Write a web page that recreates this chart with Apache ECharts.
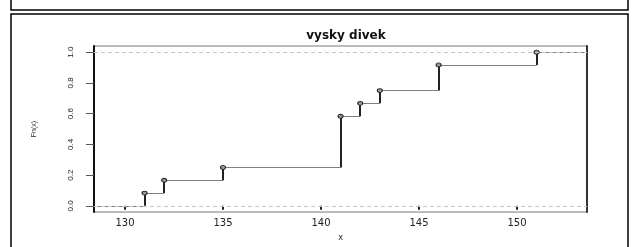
<!DOCTYPE html>
<html>
<head>
<meta charset="utf-8">
<script src="https://cdn.jsdelivr.net/npm/echarts@6/dist/echarts.min.js"></script>
<style>
  html, body { margin: 0; padding: 0; background: #fff; }
  #chart { width: 636px; height: 247px; }
</style>
</head>
<body>
<div id="chart"></div>
<script>
// ECDF of the girls' heights: jump points and Fn(x) after each jump
const knots = [131, 132, 135, 141, 142, 143, 146, 151];
const fnValues = [0.083, 0.167, 0.25, 0.583, 0.667, 0.75, 0.917, 1.0];
const xTicks = [130, 135, 140, 145, 150];
const yTicks = [0, 0.2, 0.4, 0.6, 0.8, 1.0];
const xMin = 128.42, xMax = 153.57;
const yMin = -0.04, yMax = 1.04;

// horizontal pieces (thin grey) and vertical jumps (dark)
const flats = [];
const jumps = [];
let prevX = xMin, prevY = 0;
knots.forEach((k, i) => {
  flats.push({ coords: [[prevX, prevY], [k, prevY]] });
  jumps.push({ coords: [[k, prevY], [k, fnValues[i]]] });
  prevX = k;
  prevY = fnValues[i];
});
flats.push({ coords: [[prevX, prevY], [xMax, prevY]] });

const chart = echarts.init(document.getElementById('chart'));
chart.setOption({
  animation: false,
  title: {
    text: 'vysky divek',
    left: 341,
    top: 25,
    textAlign: 'center',
    textStyle: { fontFamily: 'DejaVu Sans', fontWeight: 'bold', fontSize: 12, color: '#111' }
  },
  grid: {
    left: 94, top: 46, width: 493, height: 168,
    show: true, borderColor: '#777', borderWidth: 1
  },
  xAxis: {
    type: 'value', min: xMin, max: xMax,
    name: 'x', nameLocation: 'middle', nameGap: 22,
    nameTextStyle: { fontFamily: 'DejaVu Sans', fontSize: 8, color: '#222' },
    splitLine: { show: false },
    axisLine: { show: false },
    axisTick: { show: true, length: 4, customValues: xTicks, lineStyle: { color: '#222', width: 2 } },
    axisLabel: {
      customValues: xTicks, margin: 6,
      fontFamily: 'DejaVu Sans', fontSize: 10, color: '#222'
    }
  },
  yAxis: [{
    type: 'value', min: yMin, max: yMax,
    name: 'Fn(x)', nameLocation: 'middle', nameGap: 56, nameRotate: 90,
    nameTextStyle: { fontFamily: 'Liberation Sans', fontSize: 7, color: '#222' },
    splitLine: { show: false },
    axisLine: { show: true, lineStyle: { color: '#111', width: 2 } },
    axisTick: { show: true, length: 8, customValues: yTicks, lineStyle: { color: '#555', width: 1 } },
    axisLabel: {
      customValues: yTicks, rotate: 90, margin: 19,
      fontFamily: 'Liberation Sans', fontSize: 8, color: '#222',
      formatter: (v) => v.toFixed(1)
    }
  }, {
    type: 'value', position: 'right', min: yMin, max: yMax,
    splitLine: { show: false },
    axisLine: { show: true, lineStyle: { color: '#333', width: 2 } },
    axisTick: { show: false },
    axisLabel: { show: false }
  }],
  series: [
    {
      type: 'line', data: [], silent: true, z: 1,
      markLine: {
        symbol: 'none', silent: true, label: { show: false },
        lineStyle: { color: '#c8c8c8', type: [4, 3], width: 1 },
        data: [{ yAxis: 0 }, { yAxis: 1 }]
      }
    },
    {
      type: 'lines', coordinateSystem: 'cartesian2d', z: 2,
      lineStyle: { color: '#808080', width: 1, opacity: 1 },
      data: flats
    },
    {
      type: 'lines', coordinateSystem: 'cartesian2d', z: 3,
      lineStyle: { color: '#222', width: 2, opacity: 1 },
      data: jumps
    },
    {
      type: 'scatter', z: 4,
      symbol: 'circle', symbolSize: [5, 4],
      itemStyle: { color: '#999', borderColor: '#222', borderWidth: 1, opacity: 1 },
      data: knots.map((k, i) => [k, fnValues[i]])
    }
  ],
  graphic: [
    // outer frames
    { type: 'polyline', shape: { points: [[11, -2], [11, 10], [628, 10], [628, -2]] },
      style: { stroke: '#000', lineWidth: 1.5, fill: null } },
    { type: 'rect', shape: { x: 11, y: 14, width: 617, height: 240 },
      style: { stroke: '#000', lineWidth: 1.5, fill: null }, z: -1 }
  ]
});
</script>
</body>
</html>
